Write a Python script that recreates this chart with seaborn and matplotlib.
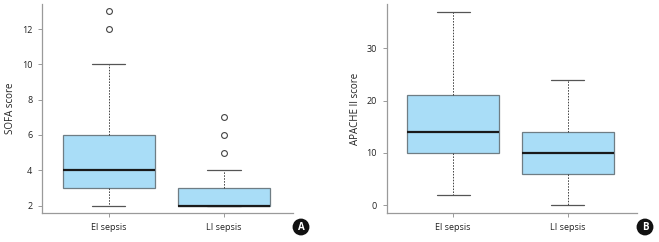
import numpy as np
import pandas as pd
import seaborn as sns
import matplotlib
matplotlib.use("Agg")
import matplotlib.pyplot as plt

categories = ["El sepsis", "LI sepsis"]

# Panel A: SOFA score (values chosen to reproduce the plotted box statistics)
sofa_el = [2, 2, 3, 3, 3, 4, 4, 5, 6, 6, 10, 12, 13]
sofa_li = [2, 2, 2, 2, 2, 2, 2, 2, 2, 3, 3, 3, 3, 4, 5, 6, 7]

# Panel B: APACHE II score
apache_el = [2, 8, 10, 12, 14, 18, 21, 30, 37]
apache_li = [0, 4, 6, 8, 10, 12, 14, 20, 24]

sofa_ticks = [2, 4, 6, 8, 10, 12]
apache_ticks = [0, 10, 20, 30]

df_a = pd.DataFrame({"group": [categories[0]] * len(sofa_el) + [categories[1]] * len(sofa_li),
                     "value": sofa_el + sofa_li})
df_b = pd.DataFrame({"group": [categories[0]] * len(apache_el) + [categories[1]] * len(apache_li),
                     "value": apache_el + apache_li})

sns.set_style("white")
plt.rcParams["font.family"] = ["Open Sans", "DejaVu Sans"]

fig = plt.figure(figsize=(6.59, 2.42), dpi=100)
ax_a = fig.add_axes([0.0637, 0.1198, 0.3809, 0.8637])
ax_b = fig.add_axes([0.5868, 0.1198, 0.3793, 0.8637])

fill = "#a9ddf7"
edge = "#6f7d84"
spine_c = "#9a9a9a"

def draw(ax, df, ylim, ticks, ylabel):
    sns.boxplot(data=df, x="group", y="value", order=categories, ax=ax,
                color=fill, width=0.8, saturation=1, whis=1.5,
                linewidth=0.9, linecolor=edge,
                boxprops=dict(facecolor=fill, edgecolor=edge, linewidth=0.9),
                medianprops=dict(color="#1a1a1a", linewidth=1.6),
                whiskerprops=dict(color="#444444", linewidth=0.7, linestyle=(0, (1.6, 1.4))),
                capprops=dict(color="#555555", linewidth=0.9),
                flierprops=dict(marker="o", markersize=4.2, markerfacecolor="white",
                                markeredgecolor="#444444", markeredgewidth=0.8),
                capwidths=0.29)
    ax.set_ylim(*ylim)
    ax.set_xlim(-0.58, 1.6)
    ax.set_yticks(ticks)
    ax.set_yticklabels([str(t) for t in ticks])
    ax.set_xlabel("")
    ax.set_ylabel(ylabel, fontsize=7, color="#222222", labelpad=4)
    for s in ["top", "right"]:
        ax.spines[s].set_visible(False)
    for s in ["left", "bottom"]:
        ax.spines[s].set_color(spine_c)
        ax.spines[s].set_linewidth(0.9)
    ax.tick_params(axis="both", direction="out", length=3, width=0.7, color=spine_c,
                   labelsize=6.5, labelcolor="#222222", pad=4,
                   left=True, bottom=True)

draw(ax_a, df_a, (1.575, 13.42), sofa_ticks, "SOFA score")
draw(ax_b, df_b, (-1.53, 38.5), apache_ticks, "APACHE II score")

for x, letter in [(301 / 659, "A"), (645 / 659, "B")]:
    fig.text(x, 1 - 227 / 242, letter, ha="center", va="center", fontsize=7,
             fontweight="bold", color="white",
             bbox=dict(boxstyle="circle,pad=0.3", facecolor="#111111", edgecolor="none"))

fig.savefig("out.png", dpi=100)
